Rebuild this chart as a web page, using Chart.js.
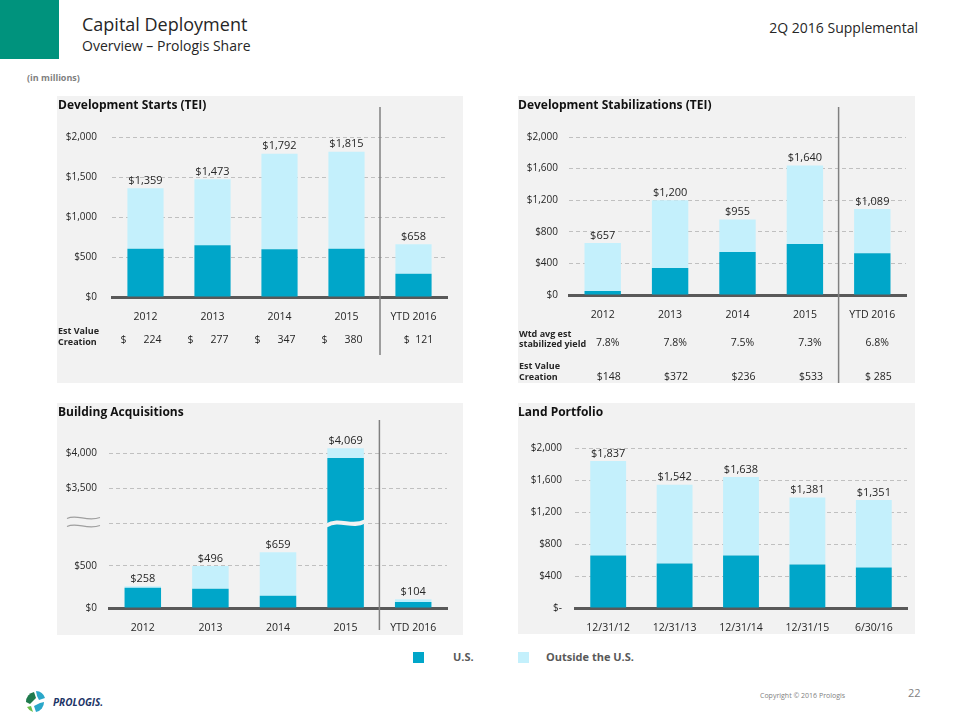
<!DOCTYPE html>
<html>
<head>
<meta charset="utf-8">
<script src="https://cdn.jsdelivr.net/npm/chart.js@4.4.0/dist/chart.umd.min.js"></script>
<style>
  body { margin: 0; width: 960px; height: 720px; position: relative; background: #fff; font-family: 'Open Sans', sans-serif; color: #262626; overflow: hidden; }
  .abs { position: absolute; white-space: nowrap; }
  canvas { position: absolute; background: #f2f2f2; }
  .ptitle { position: absolute; white-space: nowrap; font-weight: bold; font-size: 12px; color: #111; }
  .sq { position: absolute; width: 11px; height: 11px; }
</style>
</head>
<body>
<div class="abs" style="left:0;top:0;width:59px;height:59px;background:#00937d"></div>
<div class="abs" style="left:82px;top:12px;font-size:18px">Capital Deployment</div>
<div class="abs" style="left:82px;top:36px;font-size:14px">Overview – Prologis Share</div>
<div class="abs" style="right:42px;top:18px;font-size:14px">2Q 2016 Supplemental</div>
<div class="abs" style="left:27px;top:71px;font-size:9px;font-weight:bold;color:#7f7f7f">(in millions)</div>

<canvas id="starts" width="406" height="287" style="left:57px;top:96px"></canvas>
<canvas id="stabs" width="397" height="287" style="left:518px;top:96px"></canvas>
<canvas id="acqs" width="406" height="232" style="left:57px;top:403px"></canvas>
<canvas id="land" width="397" height="231" style="left:518px;top:403px"></canvas>

<div class="ptitle" style="left:58px;top:96px">Development Starts (TEI)</div>
<div class="ptitle" style="left:518px;top:96px">Development Stabilizations (TEI)</div>
<div class="ptitle" style="left:58px;top:403px">Building Acquisitions</div>
<div class="ptitle" style="left:518px;top:403px">Land Portfolio</div>

<div class="sq" style="left:413px;top:652px;background:#00a6c9"></div>
<div class="abs" style="left:453px;top:649px;font-size:11px;font-weight:bold;color:#595959">U.S.</div>
<div class="sq" style="left:518px;top:652px;background:#c4f0fc"></div>
<div class="abs" style="left:546px;top:649px;font-size:11px;font-weight:bold;color:#595959">Outside the U.S.</div>

<svg class="abs" style="left:22px;top:688px" width="100" height="28">
  <path d="M4 14 A10 10 0 0 1 12 4 L14 10 L8 16 Z" fill="#1f7a4d"/>
  <path d="M14 3 A10 10 0 0 1 23 10 L17 12 L15 8 Z" fill="#2aa7c9"/>
  <path d="M22 14 A10 10 0 0 1 14 24 L12 18 L18 15 Z" fill="#2aa7c9"/>
  <path d="M11 24 A10 10 0 0 1 5 19 L9 18 Z" fill="#6cbf4a"/>
  <text x="31" y="18" font-family="Open Sans, sans-serif" font-size="10" font-weight="bold" font-style="italic" fill="#1d3567">PROLOGIS.</text>
</svg>
<div class="abs" style="left:760px;top:691px;font-size:7px;color:#7f7f7f">Copyright © 2016 Prologis</div>
<div class="abs" style="left:908px;top:685px;font-size:11px;color:#7f7f7f">22</div>

<script>
// development starts
const startYears = ['2012', '2013', '2014', '2015', 'YTD 2016'];
const startsUS = [604, 646, 596, 604, 292];
const startsOutside = [755, 827, 1196, 1211, 366];
const startsTotal = [1359, 1473, 1792, 1815, 658];
const startsValueCreation = [224, 277, 347, 380, 121];

// development stabilizations
const stabYears = ['2012', '2013', '2014', '2015', 'YTD 2016'];
const stabUS = [51, 341, 543, 644, 530];
const stabOutside = [606, 859, 412, 996, 559];
const stabTotal = [657, 1200, 955, 1640, 1089];
const stabYield = ['7.8%', '7.8%', '7.5%', '7.3%', '6.8%'];
const stabValueCreation = [148, 372, 236, 533, 285];

// building acquisitions (axis is broken between $500 and $3,500)
const acqYears = ['2012', '2013', '2014', '2015', 'YTD 2016'];
const acqUS = [240, 228, 146, 3930, 70];
const acqOutside = [18, 268, 513, 139, 34];
const acqTotal = [258, 496, 659, 4069, 104];
const acqTicks = [0, 500, 3000, 3500, 4000];
const acqBreak = 3000;

// land portfolio
const landDates = ['12/31/12', '12/31/13', '12/31/14', '12/31/15', '6/30/16'];
const landUS = [656, 556, 656, 544, 506];
const landOutside = [1181, 986, 982, 837, 845];
const landTotal = [1837, 1542, 1638, 1381, 1351];

const US_COLOR = '#00a6c9';
const OUT_COLOR = '#c4f0fc';

Chart.defaults.font.family = "'Open Sans', sans-serif";
Chart.defaults.color = '#262626';

function money(v) {
  return '$' + v.toLocaleString('en-US');
}

// piecewise scale: 0..1000 normal, then 3000 and up squeezed in above it
function squash(v) { return v <= 1000 ? v : 1000 + (v - 3000) * 0.833; }
function unsquash(s) { return s <= 1000 ? s : 3000 + (s - 1000) / 0.833; }

class BrokenScale extends Chart.LinearScale {
  getPixelForValue(v) { return super.getPixelForValue(squash(v)); }
  getValueForPixel(p) { return unsquash(super.getValueForPixel(p)); }
  buildTicks() {
    super.buildTicks();
    return acqTicks.map(v => ({ value: v }));
  }
}
BrokenScale.id = 'broken';
BrokenScale.defaults = Chart.LinearScale.defaults;
Chart.register(BrokenScale);

const barLabels = {
  id: 'barLabels',
  afterDatasetsDraw(chart, args, opts) {
    const ctx = chart.ctx;
    const tops = chart.getDatasetMeta(1).data;
    ctx.save();
    ctx.font = "11px 'Open Sans'";
    ctx.fillStyle = '#262626';
    ctx.textAlign = 'center';
    ctx.textBaseline = 'bottom';
    opts.totals.forEach(function(t, i) {
      ctx.fillText(money(t), tops[i].x, tops[i].y - 2);
    });
    ctx.restore();
  }
};

const separator = {
  id: 'separator',
  afterDraw(chart, args, opts) {
    if (!opts.show) return;
    const x = chart.scales.x;
    const px = (x.getPixelForValue(3) + x.getPixelForValue(4)) / 2;
    const ctx = chart.ctx;
    ctx.save();
    ctx.strokeStyle = '#808080';
    ctx.lineWidth = 1.5;
    ctx.beginPath();
    ctx.moveTo(px, opts.y1);
    ctx.lineTo(px, opts.y2);
    ctx.stroke();
    ctx.restore();
  }
};

function barConfig(labels, us, outside, totals, yScale, pad, yWidth, extra) {
  return {
    type: 'bar',
    data: {
      labels: labels,
      datasets: [
        { label: 'U.S.', data: us, backgroundColor: US_COLOR, barPercentage: 0.54, categoryPercentage: 1 },
        { label: 'Outside the U.S.', data: outside, backgroundColor: OUT_COLOR, barPercentage: 0.54, categoryPercentage: 1 }
      ]
    },
    options: {
      responsive: false,
      animation: false,
      layout: { padding: pad },
      plugins: {
        legend: { display: false },
        tooltip: { enabled: false },
        barLabels: { totals: totals },
        separator: extra.separator || { show: false }
      },
      scales: {
        x: {
          stacked: true,
          grid: { display: false },
          border: { color: '#595959', width: 3 },
          ticks: { color: '#262626', font: { size: 10.5 }, padding: 6 },
          afterFit: function(s) { s.height = 26; }
        },
        y: Object.assign({
          stacked: true,
          grid: { color: '#c0c0c0', drawTicks: false },
          border: { display: false, dash: [4, 3] },
          afterFit: function(s) { s.width = yWidth; }
        }, yScale)
      }
    },
    plugins: [barLabels, separator].concat(extra.plugins || [])
  };
}

// ---- Development Starts ----
const startsRows = {
  id: 'startsRows',
  afterDraw(chart) {
    const ctx = chart.ctx;
    const x = chart.scales.x;
    ctx.save();
    ctx.fillStyle = '#262626';
    ctx.textBaseline = 'middle';
    ctx.font = "bold 9px 'Open Sans'";
    ctx.textAlign = 'left';
    ctx.fillText('Est Value', 1, 235);
    ctx.fillText('Creation', 1, 246);
    ctx.font = "10.5px 'Open Sans'";
    startsValueCreation.forEach(function(v, i) {
      const c = x.getPixelForValue(i);
      if (i < 4) {
        ctx.textAlign = 'left';
        ctx.fillText('$', c - 25, 244);
        ctx.textAlign = 'right';
        ctx.fillText(String(v), c + 16, 244);
      } else {
        ctx.textAlign = 'center';
        ctx.fillText('$  ' + v, c + 5, 244);
      }
    });
    ctx.restore();
  }
};

new Chart(document.getElementById('starts'), barConfig(
  startYears, startsUS, startsOutside, startsTotal,
  { min: 0, max: 2000, ticks: { stepSize: 500, color: '#262626', font: { size: 10 }, padding: 15, callback: v => money(v) } },
  { top: 41, bottom: 60, left: 0, right: 16 }, 55,
  { separator: { show: true, y1: 11, y2: 259 }, plugins: [startsRows] }
));

// ---- Development Stabilizations ----
const stabRows = {
  id: 'stabRows',
  afterDraw(chart) {
    const ctx = chart.ctx;
    const x = chart.scales.x;
    ctx.save();
    ctx.fillStyle = '#262626';
    ctx.textBaseline = 'middle';
    ctx.font = "bold 9px 'Open Sans'";
    ctx.textAlign = 'left';
    ctx.fillText('Wtd avg est', 1, 238);
    ctx.fillText('stabilized yield', 1, 248);
    ctx.fillText('Est Value', 1, 270);
    ctx.fillText('Creation', 1, 281);
    ctx.font = "10.5px 'Open Sans'";
    ctx.textAlign = 'center';
    stabYield.forEach(function(v, i) {
      ctx.fillText(v, x.getPixelForValue(i) + 5, 247);
    });
    stabValueCreation.forEach(function(v, i) {
      ctx.fillText(i < 4 ? '$' + v : '$ ' + v, x.getPixelForValue(i) + 6, 281);
    });
    ctx.restore();
  }
};

new Chart(document.getElementById('stabs'), barConfig(
  stabYears, stabUS, stabOutside, stabTotal,
  { min: 0, max: 2000, ticks: { stepSize: 400, color: '#262626', font: { size: 10 }, padding: 11, callback: v => money(v) } },
  { top: 41, bottom: 62, left: 0, right: 9 }, 51,
  { separator: { show: true, y1: 11, y2: 287 }, plugins: [stabRows] }
));

// ---- Building Acquisitions ----
const breakMarks = {
  id: 'breakMarks',
  afterDatasetsDraw(chart) {
    const ctx = chart.ctx;
    const y = chart.scales.y.getPixelForValue(acqBreak);
    ctx.save();
    // squiggles on the axis
    ctx.strokeStyle = '#a0a0a0';
    ctx.lineWidth = 1.2;
    [y - 5, y + 3].forEach(function(yy) {
      ctx.beginPath();
      ctx.moveTo(10, yy);
      ctx.bezierCurveTo(20, yy - 5, 30, yy + 4, 43, yy - 1);
      ctx.stroke();
    });
    // white gap through the tall bar
    const bar = chart.getDatasetMeta(0).data[3];
    const l = bar.x - bar.width / 2 - 1, r = bar.x + bar.width / 2 + 1;
    ctx.strokeStyle = '#f2f2f2';
    ctx.lineWidth = 4;
    ctx.beginPath();
    ctx.moveTo(l, y + 2);
    ctx.bezierCurveTo(l + (r - l) * 0.35, y - 6, l + (r - l) * 0.65, y + 5, r, y - 2);
    ctx.stroke();
    ctx.restore();
  }
};

new Chart(document.getElementById('acqs'), barConfig(
  acqYears, acqUS, acqOutside, acqTotal,
  { type: 'broken', min: 0, max: 2000, ticks: { autoSkip: false, color: '#262626', font: { size: 10 }, padding: 12,
    callback: v => v === acqBreak ? '' : money(v) } },
  { top: 36, bottom: 1, left: 0, right: 16 }, 52,
  { separator: { show: true, y1: 17, y2: 227 }, plugins: [breakMarks] }
));

// ---- Land Portfolio ----
new Chart(document.getElementById('land'), barConfig(
  landDates, landUS, landOutside, landTotal,
  { min: 0, max: 2000, ticks: { stepSize: 400, color: '#262626', font: { size: 10 }, padding: 13,
    callback: v => v === 0 ? '$-' : money(v) } },
  { top: 45, bottom: 0, left: 0, right: 8 }, 57,
  {}
));
</script>
</body>
</html>
